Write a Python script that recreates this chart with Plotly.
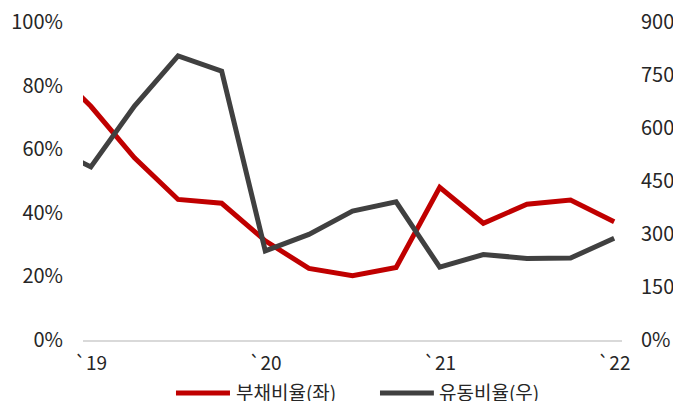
import plotly.graph_objects as go

quarters = ["18Q4", "19Q1", "19Q2", "19Q3", "19Q4", "20Q1", "20Q2", "20Q3", "20Q4",
            "21Q1", "21Q2", "21Q3", "21Q4", "22Q1"]
debt_ratio = [87.0, 73.5, 57.3, 44.2, 43.0, 31.2, 22.5, 20.2, 22.8, 48.0, 36.7, 42.7, 44.0, 37.2]
current_ratio = [552, 490, 662, 804, 761, 252, 299, 365, 391, 206, 242, 231, 232, 288]

tick_vals = ["19Q1", "20Q1", "21Q1", "22Q1"]
tick_text = ["`19", "`20", "`21", "`22"]
series_names = ["부채비율(좌)", "유동비율(우)"]
series_colors = ["#C00000", "#404040"]

FONT = "Noto Sans CJK KR"
TXT = "#262626"

fig = go.Figure()
fig.add_trace(go.Scatter(x=quarters, y=debt_ratio, mode="lines", name=series_names[0],
                         line=dict(color=series_colors[0], width=5), yaxis="y",
                         showlegend=False))
fig.add_trace(go.Scatter(x=quarters, y=current_ratio, mode="lines", name=series_names[1],
                         line=dict(color=series_colors[1], width=5), yaxis="y2",
                         showlegend=False))

# manual legend (paper coordinates) below the plot
legend_items = [(0.1725, 0.2727, 0.280), (0.551, 0.651, 0.6566)]
for (x0, x1, xt), name, col in zip(legend_items, series_names, series_colors):
    fig.add_shape(type="line", xref="paper", yref="paper", x0=x0, x1=x1,
                  y0=-0.1667, y1=-0.1667, line=dict(color=col, width=5))
    fig.add_annotation(xref="paper", yref="paper", x=xt, y=-0.161, text=name,
                       showarrow=False, xanchor="left", yanchor="middle",
                       font=dict(family=FONT, size=19, color=TXT))

fig.update_layout(
    width=673, height=401,
    margin=dict(l=83, r=51, t=22, b=61),
    paper_bgcolor="white", plot_bgcolor="white",
    font=dict(family=FONT, size=18, color=TXT),
    showlegend=False,
    xaxis=dict(type="category", categoryorder="array", categoryarray=quarters,
               range=[0.82, 13.18], tickmode="array", tickvals=tick_vals, ticktext=tick_text,
               showgrid=False, showline=True, linecolor="#D9D9D9", linewidth=1.5,
               ticks="", zeroline=False, ticklabelstandoff=5, automargin=False,
               tickfont=dict(size=19, color=TXT)),
    yaxis=dict(range=[0, 100], dtick=20, ticksuffix="%", showgrid=False, zeroline=False,
               showline=False, ticks="", ticklabelstandoff=19, automargin=False,
               tickfont=dict(size=20, color=TXT)),
    yaxis2=dict(range=[0, 900], dtick=150, ticksuffix="%", overlaying="y", side="right",
                showgrid=False, zeroline=False, showline=False, ticks="", automargin=False,
                ticklabelstandoff=18, tickfont=dict(size=20, color=TXT)),
)

fig.write_html("out.html", config={"displayModeBar": False},
               post_script="document.body.style.margin='0';document.body.style.overflow='hidden';")
